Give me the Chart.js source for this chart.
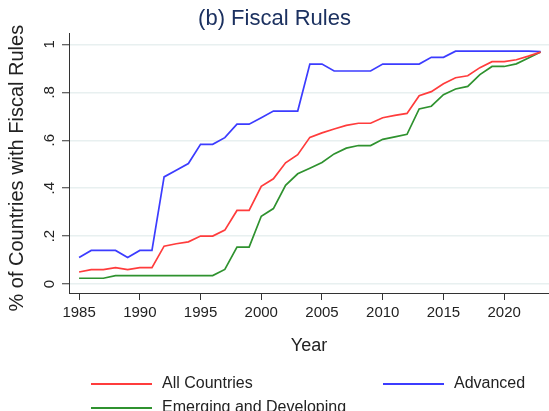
<!DOCTYPE html>
<html>
<head>
<meta charset="utf-8">
<script src="https://cdn.jsdelivr.net/npm/chart.js@4.4.1/dist/chart.umd.min.js"></script>
<style>
  html, body { margin: 0; padding: 0; background: #fff; }
  #wrap { width: 549px; height: 411px; }
</style>
</head>
<body>
<div id="wrap"><canvas id="chart" width="549" height="411"></canvas></div>
<script>
// years 1985-2023
const years = [];
for (let y = 1985; y <= 2023; y++) years.push(y);

const allCountries = [0.050, 0.060, 0.060, 0.068, 0.060, 0.068, 0.068, 0.158, 0.168, 0.176,
    0.200, 0.200, 0.225, 0.307, 0.307, 0.408, 0.439, 0.506, 0.540, 0.612,
    0.631, 0.647, 0.662, 0.671, 0.671, 0.694, 0.704, 0.712, 0.786, 0.803,
    0.836, 0.861, 0.869, 0.903, 0.928, 0.928, 0.936, 0.951, 0.968];

const advanced = [0.111, 0.140, 0.140, 0.140, 0.111, 0.140, 0.140, 0.447, 0.475, 0.503,
    0.583, 0.583, 0.611, 0.667, 0.667, 0.694, 0.722, 0.722, 0.722, 0.918,
    0.918, 0.889, 0.889, 0.889, 0.889, 0.918, 0.918, 0.918, 0.918, 0.946,
    0.946, 0.972, 0.972, 0.972, 0.972, 0.972, 0.972, 0.972, 0.970];

const emerging = [0.024, 0.024, 0.024, 0.035, 0.035, 0.035, 0.035, 0.035, 0.035, 0.035,
    0.035, 0.035, 0.061, 0.154, 0.154, 0.283, 0.315, 0.412, 0.460, 0.483,
    0.507, 0.543, 0.567, 0.578, 0.578, 0.604, 0.614, 0.625, 0.731, 0.742,
    0.790, 0.814, 0.825, 0.874, 0.908, 0.908, 0.919, 0.943, 0.968];

const xTicks = [1985, 1990, 1995, 2000, 2005, 2010, 2015, 2020];
const yTicks = [0, 0.2, 0.4, 0.6, 0.8, 1];
const yTickLabels = ['0', '.2', '.4', '.6', '.8', '1'];
const yTitle = '% of Countries with Fiscal Rules';

const FONT = 'Liberation Sans, Arial, Helvetica, sans-serif';

// y tick labels and y title are rotated (Stata style)
const yLabelsPlugin = {
    id: 'yLabels',
    afterDraw(chart) {
        const ctx = chart.ctx;
        const ys = chart.scales.y;
        ctx.save();
        ctx.fillStyle = '#222';
        ctx.textAlign = 'center';
        ctx.textBaseline = 'middle';
        ctx.font = '15px ' + FONT;
        yTicks.forEach((v, i) => {
            const py = ys.getPixelForValue(v);
            ctx.save();
            ctx.translate(ys.right - 19, py);
            ctx.rotate(-Math.PI / 2);
            ctx.fillText(yTickLabels[i], 0, 0);
            ctx.restore();
        });
        ctx.font = '20px ' + FONT;
        ctx.translate(17, (ys.top + ys.bottom) / 2 + 5);
        ctx.rotate(-Math.PI / 2);
        ctx.fillText(yTitle, 0, 0);
        ctx.restore();
    }
};

// two-column legend below the plot
const legendPlugin = {
    id: 'stataLegend',
    afterDraw(chart) {
        const ctx = chart.ctx;
        const ds = chart.data.datasets;
        const slots = [
            { x: 91, y: 384 },
            { x: 383, y: 384 },
            { x: 91, y: 408 }
        ];
        ctx.save();
        ctx.font = '16px ' + FONT;
        ctx.textBaseline = 'middle';
        ctx.textAlign = 'left';
        ds.forEach((d, i) => {
            const s = slots[i];
            ctx.strokeStyle = d.borderColor;
            ctx.lineWidth = 2;
            ctx.beginPath();
            ctx.moveTo(s.x, s.y);
            ctx.lineTo(s.x + 61, s.y);
            ctx.stroke();
            ctx.fillStyle = '#222';
            ctx.fillText(d.label, s.x + 71, s.y);
        });
        ctx.restore();
    }
};

new Chart(document.getElementById('chart'), {
    type: 'line',
    data: {
        labels: years,
        datasets: [
            { label: 'All Countries', data: allCountries, borderColor: '#ff3c3c' },
            { label: 'Advanced', data: advanced, borderColor: '#3c3cff' },
            { label: 'Emerging and Developing', data: emerging, borderColor: '#2f922f' }
        ]
    },
    options: {
        responsive: false,
        animation: false,
        layout: { padding: { top: 0, right: 0, bottom: 48, left: 0 } },
        elements: {
            point: { radius: 0 },
            line: { borderWidth: 1.7, tension: 0 }
        },
        plugins: {
            legend: { display: false },
            tooltip: { enabled: false },
            title: {
                display: true,
                text: '(b) Fiscal Rules',
                color: '#1c3160',
                font: { family: FONT, size: 22, weight: 'normal' },
                padding: { top: 6, bottom: 1 }
            }
        },
        scales: {
            x: {
                type: 'linear',
                min: 1984.17,
                max: 2023.69,
                afterBuildTicks: s => { s.ticks = xTicks.map(v => ({ value: v })); },
                afterFit: s => { s.height = 70; },
                ticks: {
                    color: '#222',
                    font: { family: FONT, size: 15 },
                    padding: 4,
                    maxRotation: 0,
                    callback: v => String(v)
                },
                grid: {
                    drawOnChartArea: false,
                    drawTicks: true,
                    tickLength: 7,
                    tickColor: '#333',
                    tickWidth: 1
                },
                border: { display: true, color: '#333', width: 1 },
                title: {
                    display: true,
                    text: 'Year',
                    color: '#222',
                    font: { family: FONT, size: 18 },
                    padding: { top: 0, bottom: 6 }
                }
            },
            y: {
                type: 'linear',
                min: -0.0375,
                max: 1.046,
                afterBuildTicks: s => { s.ticks = yTicks.map(v => ({ value: v })); },
                afterFit: s => { s.width = 69; },
                ticks: { display: false },
                grid: {
                    color: '#e8f0f0',
                    lineWidth: 1.5,
                    drawTicks: true,
                    tickLength: 7,
                    tickColor: '#333',
                    tickWidth: 1
                },
                border: { display: true, color: '#333', width: 1 }
            }
        }
    },
    plugins: [yLabelsPlugin, legendPlugin]
});
</script>
</body>
</html>
